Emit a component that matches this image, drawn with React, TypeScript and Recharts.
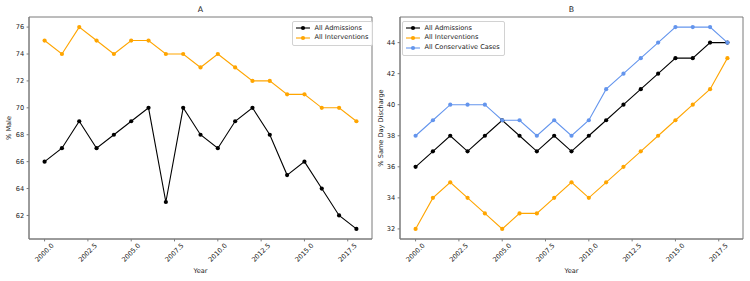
import React from 'react';
import { LineChart, Line, XAxis, YAxis, Legend, ReferenceArea } from 'recharts';

const years = [2000, 2001, 2002, 2003, 2004, 2005, 2006, 2007, 2008, 2009, 2010, 2011, 2012, 2013, 2014, 2015, 2016, 2017, 2018];
const xTicks = [2000, 2002.5, 2005, 2007.5, 2010, 2012.5, 2015, 2017.5];

// panel A: % male
const maleAdmissions = [66, 67, 69, 67, 68, 69, 70, 63, 70, 68, 67, 69, 70, 68, 65, 66, 64, 62, 61];
const maleInterventions = [75, 74, 76, 75, 74, 75, 75, 74, 74, 73, 74, 73, 72, 72, 71, 71, 70, 70, 69];
const maleTicks = [62, 64, 66, 68, 70, 72, 74, 76];

// panel B: % same day discharge
const sddAdmissions = [36, 37, 38, 37, 38, 39, 38, 37, 38, 37, 38, 39, 40, 41, 42, 43, 43, 44, 44];
const sddInterventions = [32, 34, 35, 34, 33, 32, 33, 33, 34, 35, 34, 35, 36, 37, 38, 39, 40, 41, 43];
const sddConservative = [38, 39, 40, 40, 40, 39, 39, 38, 39, 38, 39, 41, 42, 43, 44, 45, 45, 45, 44];
const sddTicks = [32, 34, 36, 38, 40, 42, 44];

const seriesOrder = ['All Admissions', 'All Interventions', 'All Conservative Cases'];

const BLACK = '#000000';
const ORANGE = '#FFA500';
const BLUE = '#6495ED';
const SPINE = '#7a7a7a';
const FONT = 'DejaVu Sans, sans-serif';
const FS = 6.6;

const X_DOMAIN: [number, number] = [1999.1, 2018.9];
const A_DOMAIN: [number, number] = [60.25, 76.75];
const B_DOMAIN: [number, number] = [31.35, 45.65];

const dataA = years.map((year, i) => ({ year, adm: maleAdmissions[i], int: maleInterventions[i] }));
const dataB = years.map((year, i) => ({
  year,
  adm: sddAdmissions[i],
  int: sddInterventions[i],
  cons: sddConservative[i],
}));

const RotTick = ({ x, y, payload }: any) => (
  <g transform={`translate(${x},${y + 9})`}>
    <text
      x={0}
      y={0}
      transform="rotate(-45)"
      textAnchor="middle"
      dominantBaseline="central"
      fontSize={FS}
      fontFamily={FONT}
      fill="#222"
    >
      {Number(payload.value).toFixed(1)}
    </text>
  </g>
);

const LegendBox = ({ payload }: any) => {
  const items = [...(payload || [])].sort(
    (a: any, b: any) => seriesOrder.indexOf(a.value) - seriesOrder.indexOf(b.value)
  );
  return (
    <div
      style={{
        border: '1px solid #d2d2d2',
        borderRadius: 2,
        background: 'rgba(255,255,255,0.85)',
        padding: '2px 4px 2px 3px',
        fontFamily: FONT,
        fontSize: FS,
        color: '#222',
        lineHeight: '9.7px',
      }}
    >
      {items.map((p: any) => (
        <div key={p.value} style={{ display: 'flex', alignItems: 'center', whiteSpace: 'nowrap' }}>
          <svg width={14} height={8} style={{ marginRight: 5 }}>
            <line x1={0} y1={4} x2={14} y2={4} stroke={p.color} strokeWidth={1.1} />
            <circle cx={7} cy={4} r={2.1} fill={p.color} />
          </svg>
          {p.value}
        </div>
      ))}
    </div>
  );
};

const axisProps = {
  stroke: SPINE,
  tickSize: 2.4,
  tickMargin: 2.4,
  tick: { fontSize: FS, fontFamily: FONT, fill: '#222' },
};

const Title = ({ text, left }: { text: string; left: number }) => (
  <div
    style={{
      position: 'absolute',
      left,
      width: 343,
      top: 5,
      textAlign: 'center',
      fontFamily: FONT,
      fontSize: 7.8,
      color: '#222',
    }}
  >
    {text}
  </div>
);

const lineStyle = (color: string) => ({
  stroke: color,
  strokeWidth: 1.1,
  dot: { r: 2.1, fill: color, stroke: color, strokeWidth: 0 },
  activeDot: false as const,
  isAnimationActive: false,
});

const legendProps = {
  layout: 'vertical' as const,
  verticalAlign: 'middle' as const,
  align: 'center' as const,
  content: <LegendBox />,
};

export default function App() {
  return (
    <div style={{ position: 'absolute', left: 0, top: 0, width: 750, height: 281, background: '#fff' }}>
      <Title text="A" left={29} />
      <Title text="B" left={400} />
      <div style={{ position: 'absolute', left: 0, top: 0 }}>
        <LineChart width={375} height={281} data={dataA} margin={{ top: 17, right: 3, bottom: 0, left: 0 }}>
          <XAxis
            dataKey="year"
            type="number"
            domain={X_DOMAIN}
            ticks={xTicks}
            {...axisProps}
            tick={<RotTick />}
            height={42}
            label={{ value: 'Year', position: 'insideBottom', offset: 8, fontSize: FS, fontFamily: FONT, fill: '#222' }}
          />
          <YAxis
            type="number"
            domain={A_DOMAIN}
            ticks={maleTicks}
            width={29}
            {...axisProps}
            label={{ value: '% Male', angle: -90, position: 'insideLeft', offset: 9, fontSize: FS, fontFamily: FONT, fill: '#222', style: { textAnchor: 'middle' } }}
          />
          <ReferenceArea x1={X_DOMAIN[0]} x2={X_DOMAIN[1]} y1={A_DOMAIN[0]} y2={A_DOMAIN[1]} fill="none" stroke={SPINE} strokeWidth={1} ifOverflow="visible" />
          <Line dataKey="adm" name="All Admissions" {...lineStyle(BLACK)} />
          <Line dataKey="int" name="All Interventions" {...lineStyle(ORANGE)} />
          <Legend {...legendProps} wrapperStyle={{ top: 20.5, left: 291.5, width: 'auto' }} />
        </LineChart>
      </div>
      <div style={{ position: 'absolute', left: 375, top: 0 }}>
        <LineChart width={375} height={281} data={dataB} margin={{ top: 17, right: 7, bottom: 0, left: 0 }}>
          <XAxis
            dataKey="year"
            type="number"
            domain={X_DOMAIN}
            ticks={xTicks}
            {...axisProps}
            tick={<RotTick />}
            height={42}
            label={{ value: 'Year', position: 'insideBottom', offset: 8, fontSize: FS, fontFamily: FONT, fill: '#222' }}
          />
          <YAxis
            type="number"
            domain={B_DOMAIN}
            ticks={sddTicks}
            width={25}
            {...axisProps}
            label={{ value: '% Same Day Discharge', angle: -90, position: 'insideLeft', offset: 6, fontSize: FS, fontFamily: FONT, fill: '#222', style: { textAnchor: 'middle' } }}
          />
          <ReferenceArea x1={X_DOMAIN[0]} x2={X_DOMAIN[1]} y1={B_DOMAIN[0]} y2={B_DOMAIN[1]} fill="none" stroke={SPINE} strokeWidth={1} ifOverflow="visible" />
          <Line dataKey="adm" name="All Admissions" {...lineStyle(BLACK)} />
          <Line dataKey="int" name="All Interventions" {...lineStyle(ORANGE)} />
          <Line dataKey="cons" name="All Conservative Cases" {...lineStyle(BLUE)} />
          <Legend {...legendProps} wrapperStyle={{ top: 20.5, left: 26.5, width: 'auto' }} />
        </LineChart>
      </div>
    </div>
  );
}
